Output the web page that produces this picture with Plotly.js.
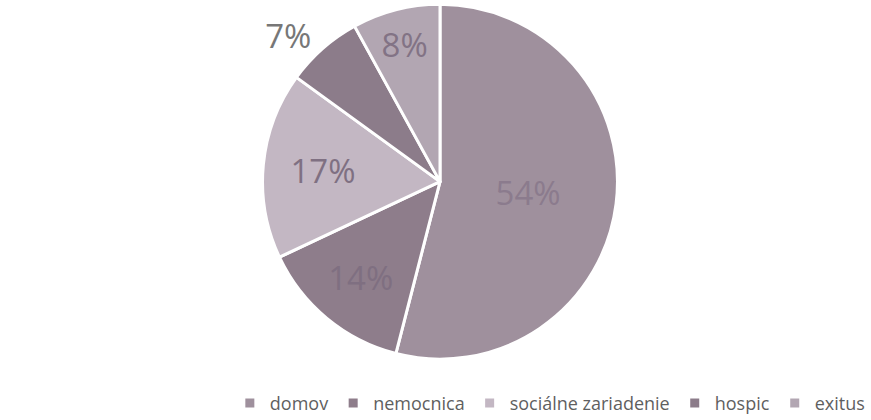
<!DOCTYPE html>
<html><head><meta charset="utf-8">
<script src="https://cdn.plot.ly/plotly-3.0.1.min.js"></script>
<style>html,body{margin:0;padding:0;background:#fff;}#chart{width:871px;height:420px;}</style>
</head><body><div id="chart"></div>
<script>
const categories = ['domov', 'nemocnica', 'sociálne zariadenie', 'hospic', 'exitus'];
const values = [54, 14, 17, 7, 8];
const sliceColors = ['#9f909d', '#8e7d8b', '#c3b7c3', '#8c7c8a', '#b2a6b2'];
const textPositions = ['inside', 'inside', 'inside', 'outside', 'inside'];
const textColors = ['#8b7b8d', '#7f6f81', '#7f7082', '#777777', '#827385'];

const trace = {
  type: 'pie',
  labels: categories,
  values: values,
  sort: false,
  direction: 'clockwise',
  rotation: 0,
  marker: {colors: sliceColors, line: {color: '#ffffff', width: 3}},
  textinfo: 'percent',
  texttemplate: '%{percent:.0%}',
  textposition: textPositions,
  insidetextorientation: 'horizontal',
  textfont: {family: 'Open Sans, sans-serif', size: 33, color: textColors},
  outsidetextfont: {family: 'Open Sans, sans-serif', size: 33, color: '#777777'},
  domain: {x: [0.0, 1.0], y: [0.145, 0.99]},
  hoverinfo: 'none'
};

const layout = {
  width: 871, height: 420,
  margin: {l: 9, r: 0, t: 0, b: 0, autoexpand: false},
  paper_bgcolor: '#ffffff',
  showlegend: true,
  legend: {
    orientation: 'h', x: 0.628, xanchor: 'center', y: 0.04, yanchor: 'middle',
    font: {family: 'Open Sans, sans-serif', size: 18, color: '#5f5f5f'},
    itemwidth: 30, traceorder: 'normal'
  }
};
Plotly.newPlot('chart', [trace], layout, {displayModeBar: false, staticPlot: true});
</script></body></html>
